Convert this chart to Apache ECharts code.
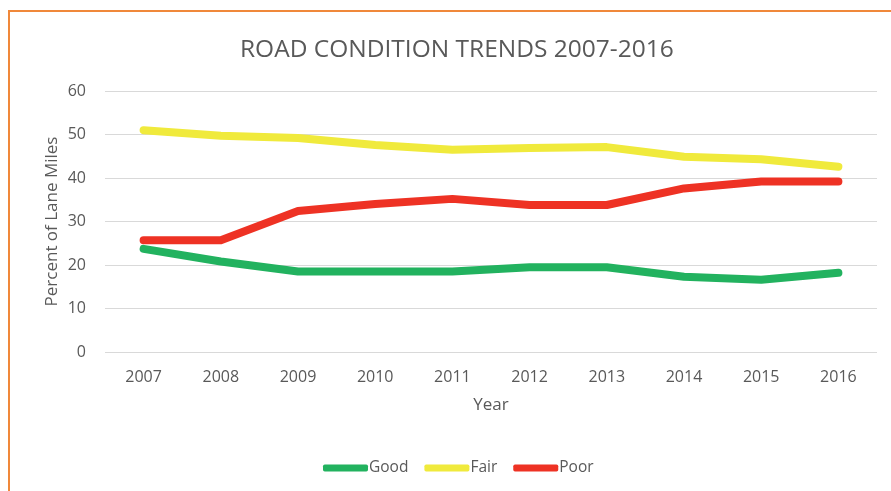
<!DOCTYPE html>
<html>
<head>
<meta charset="utf-8">
<script src="https://cdn.jsdelivr.net/npm/echarts@6/dist/echarts.min.js"></script>
<style>
  body { margin: 0; background: #fff; }
  #chart { position: absolute; left: 0; top: 0; width: 891px; height: 491px; }
  #frame { position: absolute; left: 8px; top: 10px; width: 900px; height: 500px;
           border-left: 2px solid #f0883a; border-top: 2px solid #f0883a; pointer-events: none; }
</style>
</head>
<body>
<div id="chart"></div>
<div id="frame"></div>
<script>
// road condition data, percent of lane miles
const years = ['2007', '2008', '2009', '2010', '2011', '2012', '2013', '2014', '2015', '2016'];
const good = [23.7, 20.8, 18.5, 18.5, 18.5, 19.5, 19.5, 17.3, 16.6, 18.2];
const fair = [51.0, 49.7, 49.2, 47.6, 46.5, 46.9, 47.1, 44.9, 44.3, 42.6];
const poor = [25.7, 25.7, 32.4, 34.0, 35.2, 33.8, 33.8, 37.6, 39.2, 39.2];

const font = '"Open Sans", sans-serif';
const grey = '#595959';

let myChart = echarts.init(document.getElementById('chart'));

function lineSeries(name, data, color) {
  return {
    name: name,
    type: 'line',
    data: data,
    symbol: 'none',
    lineStyle: { width: 8, color: color, cap: 'round', join: 'round' },
    itemStyle: { color: color }
  };
}

const option = {
  backgroundColor: '#fff',
  animation: false,
  title: {
    text: 'ROAD CONDITION TRENDS 2007-2016',
    left: 235,
    top: 33,
    textStyle: { color: grey, fontFamily: font, fontSize: 24.5, fontWeight: 'normal' }
  },
  legend: {
    top: 455,
    left: 318,
    itemWidth: 45,
    itemHeight: 7,
    itemGap: 16,
    icon: 'roundRect',
    textStyle: { color: grey, fontFamily: font, fontSize: 15.5, padding: [0, 0, 0, -4] },
    data: ['Good', 'Fair', 'Poor']
  },
  grid: { left: 105, right: 14, top: 91, bottom: 139 },
  xAxis: {
    type: 'category',
    data: years,
    boundaryGap: true,
    name: 'Year',
    nameLocation: 'middle',
    nameGap: 45,
    nameTextStyle: { color: grey, fontFamily: font, fontSize: 17 },
    axisLine: { show: false },
    axisTick: { show: false },
    axisLabel: { color: grey, fontFamily: font, fontSize: 16, margin: 17 }
  },
  yAxis: {
    type: 'value',
    min: 0,
    max: 60,
    interval: 10,
    name: 'Percent of Lane Miles',
    nameLocation: 'middle',
    nameGap: 44,
    nameMoveOverlap: false,
    nameTextStyle: { color: grey, fontFamily: font, fontSize: 17 },
    axisLine: { show: false },
    axisTick: { show: false },
    axisLabel: { color: grey, fontFamily: font, fontSize: 16, margin: 19 },
    splitLine: { lineStyle: { color: '#d9d9d9', width: 1 } }
  },
  series: [
    lineSeries('Good', good, '#22b25f'),
    lineSeries('Fair', fair, '#f0ea3c'),
    lineSeries('Poor', poor, '#ee3224')
  ]
};

myChart.setOption(option);
</script>
</body>
</html>
